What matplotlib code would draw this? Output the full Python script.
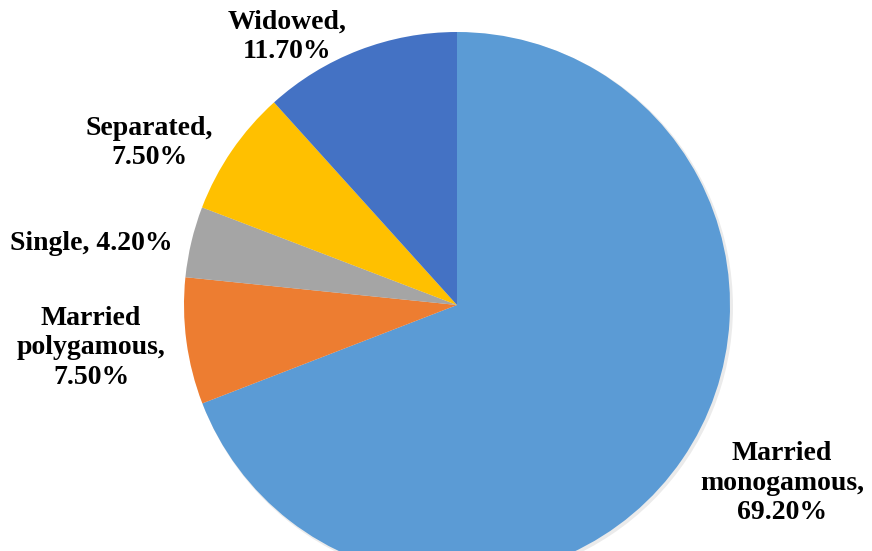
import matplotlib
matplotlib.use("Agg")
import matplotlib.pyplot as plt

# ---------------------------------------------------------------------------
# Data (clockwise from 12 o'clock)
# ---------------------------------------------------------------------------
categories = ["Married\nmonogamous", "Married\npolygamous", "Single",
              "Separated", "Widowed"]
shares = [69.2, 7.5, 4.2, 7.5, 11.7]
label_texts = ["Married\nmonogamous,\n69.20%", "Married\npolygamous,\n7.50%",
               "Single, 4.20%", "Separated,\n7.50%", "Widowed,\n11.70%"]
colors = ["#5B9BD5", "#ED7D31", "#A5A5A5", "#FFC000", "#4472C4"]

# label anchor points in pixel space (x, y from top)
label_pos = [(782, 483), (91, 348), (91, 243), (149, 143), (287, 37)]

W, H = 872, 551
CENTER = (457, 305)
RADIUS = 273

fig = plt.figure(figsize=(W / 100, H / 100), dpi=100)
ax = fig.add_axes([0, 0, 1, 1])
ax.set_xlim(0, W)
ax.set_ylim(0, H)
ax.set_aspect("equal")
ax.axis("off")

# faint drop shadow like the office-style original
ax.add_patch(plt.Circle((CENTER[0] + 2, H - CENTER[1] - 2), RADIUS + 1,
                        fc="#000000", alpha=0.08, lw=0))

ax.pie(shares, colors=colors, startangle=90, counterclock=False,
       center=(CENTER[0], H - CENTER[1]), radius=RADIUS,
       wedgeprops=dict(linewidth=0))

for txt, (x, y) in zip(label_texts, label_pos):
    ax.text(x, H - y, txt, ha="center", va="center", fontsize=20,
            fontweight="bold", family="Liberation Serif",
            linespacing=1.26, color="black")

ax.set_xlim(0, W)
ax.set_ylim(0, H)
fig.savefig("out.png", dpi=100)
